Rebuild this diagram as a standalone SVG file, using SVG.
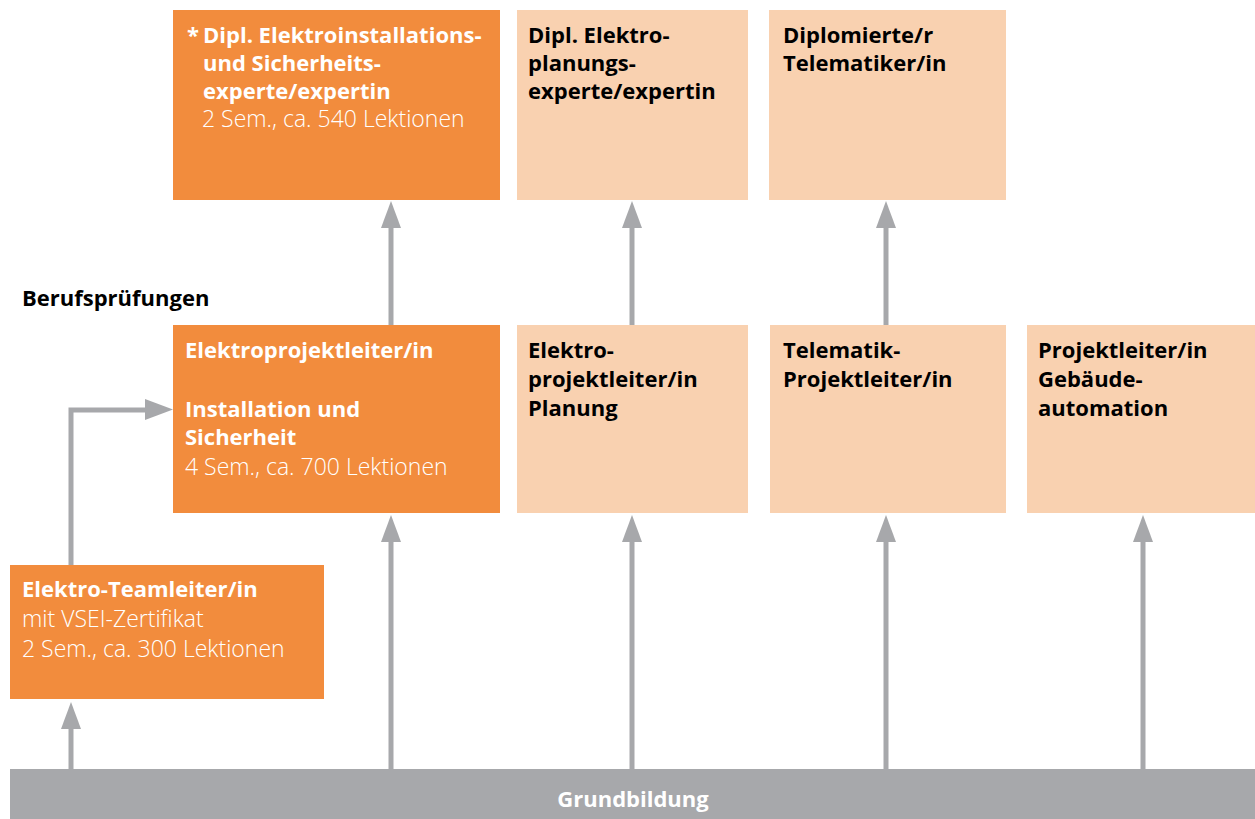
<svg xmlns="http://www.w3.org/2000/svg" width="1255" height="819" viewBox="0 0 1255 819">
<style>
.o{fill:#F28C3D}
.p{fill:#F9D1B0}
.g{fill:#A7A8AB}
text{font-family:"Open Sans","Noto Sans","DejaVu Sans",sans-serif;font-size:22px}
.b{font-weight:700}
.w{fill:#FFFFFF}
.k{fill:#000000}
.l{font-weight:300;font-size:23px}
.ln{stroke:#A7A8AB;stroke-width:5;fill:none}
.ah{fill:#A7A8AB}
</style>
<g id="connectors">
<path class="ln" d="M391,325 V226"/>
<path class="ah" d="M391,201 L401,228 L381,228 Z"/>
<path class="ln" d="M632,325 V226"/>
<path class="ah" d="M632,201 L642,228 L622,228 Z"/>
<path class="ln" d="M886,325 V226"/>
<path class="ah" d="M886,201 L896,228 L876,228 Z"/>
<path class="ln" d="M391,769 V540"/>
<path class="ah" d="M391,515 L401,542 L381,542 Z"/>
<path class="ln" d="M632,769 V540"/>
<path class="ah" d="M632,515 L642,542 L622,542 Z"/>
<path class="ln" d="M886,769 V540"/>
<path class="ah" d="M886,515 L896,542 L876,542 Z"/>
<path class="ln" d="M1143,769 V540"/>
<path class="ah" d="M1143,515 L1153,542 L1133,542 Z"/>
<path class="ln" d="M71,769 V726"/>
<path class="ah" d="M71,702 L81,729 L61,729 Z"/>
<path class="ln" d="M71,565 V410 H148"/>
<path class="ah" d="M173,409.5 L145,399 L145,420 Z"/>
</g>
<g id="grundbildung">
<rect class="g" x="10" y="769" width="1245" height="50"/>
<text class="b w" x="633" y="807" text-anchor="middle">Grundbildung</text>
</g>
<g id="label-berufspruefungen">
<text class="b k" x="22" y="306">Berufsprüfungen</text>
</g>
<g id="dipl-elektroinstallation">
<rect class="o" x="173" y="10" width="327" height="190"/>
<text class="b w" x="187" y="43">*</text>
<text class="b w" x="203" y="43">Dipl. Elektroinstallations-</text>
<text class="b w" x="203" y="71">und Sicherheits-</text>
<text class="b w" x="203" y="99">experte/expertin</text>
<text class="l w" x="202" y="127">2 Sem., ca. 540 Lektionen</text>
</g>
<g id="dipl-elektroplanung">
<rect class="p" x="517" y="10" width="231" height="190"/>
<text class="b k" x="528" y="43">Dipl. Elektro-</text>
<text class="b k" x="528" y="71">planungs-</text>
<text class="b k" x="528" y="99">experte/expertin</text>
</g>
<g id="dipl-telematiker">
<rect class="p" x="769" y="10" width="237" height="190"/>
<text class="b k" x="783" y="43">Diplomierte/r</text>
<text class="b k" x="783" y="71">Telematiker/in</text>
</g>
<g id="elektroprojektleiter-installation">
<rect class="o" x="173" y="325" width="327" height="188"/>
<text class="b w" x="185" y="358">Elektroprojektleiter/in</text>
<text class="b w" x="185" y="417">Installation und</text>
<text class="b w" x="185" y="445">Sicherheit</text>
<text class="l w" x="185" y="475">4 Sem., ca. 700 Lektionen</text>
</g>
<g id="elektroprojektleiter-planung">
<rect class="p" x="517" y="325" width="231" height="188"/>
<text class="b k" x="528" y="358">Elektro-</text>
<text class="b k" x="528" y="387">projektleiter/in</text>
<text class="b k" x="528" y="416">Planung</text>
</g>
<g id="telematik-projektleiter">
<rect class="p" x="770" y="325" width="236" height="188"/>
<text class="b k" x="783" y="358">Telematik-</text>
<text class="b k" x="783" y="387">Projektleiter/in</text>
</g>
<g id="projektleiter-gebaeudeautomation">
<rect class="p" x="1027" y="325" width="228" height="188"/>
<text class="b k" x="1038" y="358">Projektleiter/in</text>
<text class="b k" x="1038" y="387">Gebäude-</text>
<text class="b k" x="1038" y="416">automation</text>
</g>
<g id="elektro-teamleiter">
<rect class="o" x="10" y="565" width="314" height="134"/>
<text class="b w" x="22" y="597">Elektro-Teamleiter/in</text>
<text class="l w" x="22" y="627">mit VSEI-Zertifikat</text>
<text class="l w" x="22" y="657">2 Sem., ca. 300 Lektionen</text>
</g>
</svg>
